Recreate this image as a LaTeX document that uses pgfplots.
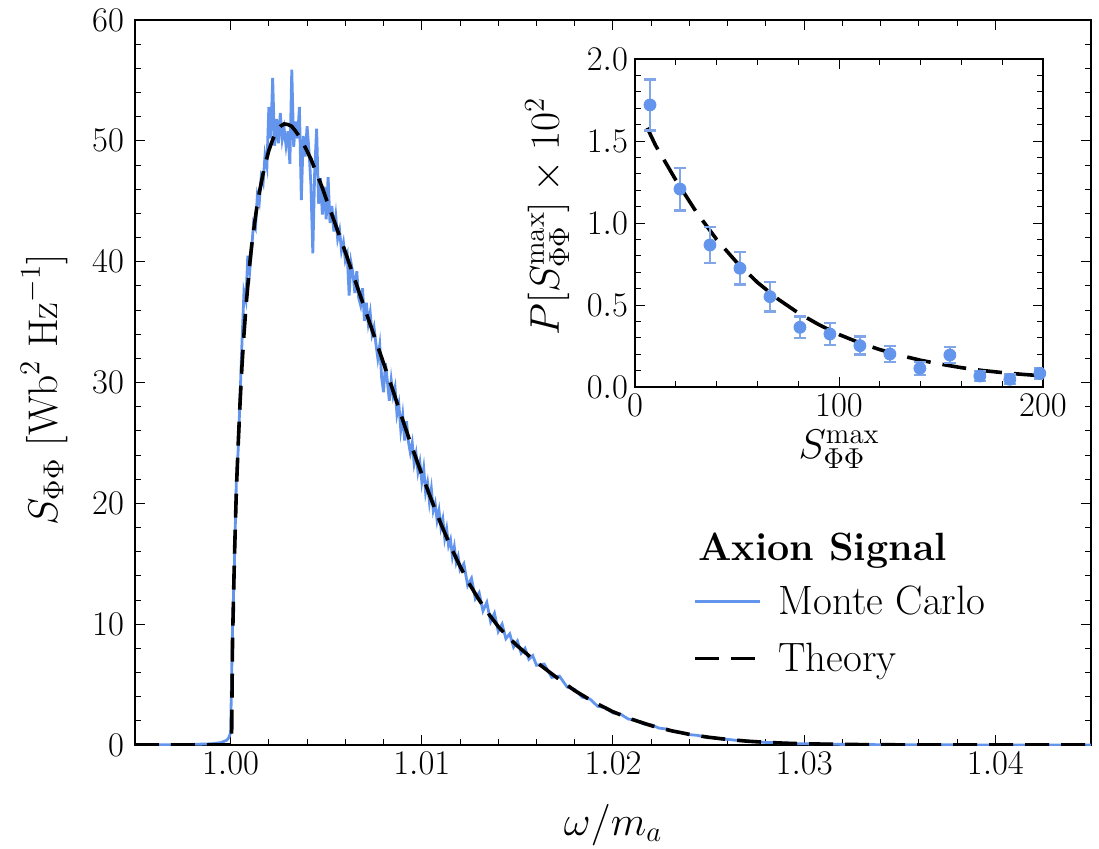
\documentclass[border=0pt]{standalone}
\usepackage{pgfplots}
\pgfplotsset{compat=1.18}
\usepackage{pgfplotstable}
\definecolor{mc}{RGB}{100,149,237}
\definecolor{mcerr}{RGB}{128,166,232}

\pgfplotstableread{
x y
0.995 0
0.99995 0
1.00005 0
1.0001 8.5
1.0002 15.5
1.0003 21
1.0004 25
1.0005 28.5
1.0006 31.5
1.0007 34
1.0008 36.2
1.0009 38
1.0010 39.8
1.0011 41.3
1.0012 42.5
1.0013 43.7
1.0014 44.8
1.0015 45.7
1.0016 46.5
1.0017 47.3
1.0018 48.0
1.0019 48.6
1.0020 49.2
1.0022 50.1
1.0024 50.8
1.0026 51.2
1.0028 51.4
1.0030 51.35
1.0032 51.2
1.0034 50.8
1.0036 50.35
1.0038 49.8
1.0040 49.15
1.0042 48.5
1.0044 47.7
1.0046 46.9
1.0048 46.1
1.0050 45.2
1.0055 43.0
1.0060 40.8
1.0065 38.5
1.0070 36.2
1.0075 33.9
1.0080 31.6
1.0085 29.3
1.0090 26.9
1.0095 24.6
1.0100 22.4
1.0105 20.3
1.0110 18.3
1.0115 16.45
1.0120 14.8
1.0125 13.3
1.0130 12.0
1.0135 10.85
1.0140 9.8
1.0145 8.95
1.0150 8.2
1.0160 6.85
1.0170 5.65
1.0180 4.5
1.0190 3.55
1.0200 2.75
1.0210 2.12
1.0220 1.6
1.0230 1.2
1.0240 0.88
1.0250 0.64
1.0260 0.46
1.0270 0.32
1.0280 0.22
1.0290 0.15
1.0300 0.10
1.0320 0.05
1.0340 0.02
1.0370 0.008
1.0400 0.002
1.0450 0
}\theory

\pgfplotstableread{
x y
0.995 0
0.997 0.02
0.998 0.05
0.999 0.1
0.9995 0.2
0.9998 0.4
0.9999 0.6
1.0000 1.0
1.0001 9.5
1.0002 15.0
1.0003 21.8
1.0004 24.5
1.0005 29.0
1.0006 33.5
1.0007 37.5
1.0008 36.8
1.0009 40.5
1.0010 39.2
1.0011 41.0
1.0012 43.2
1.0013 42.8
1.0014 45.5
1.0015 44.9
1.0016 47.0
1.0017 46.5
1.0018 48.8
1.0019 47.9
1.0020 52.8
1.0021 50.2
1.0022 55.2
1.0023 49.6
1.0024 51.8
1.0025 49.8
1.0026 52.3
1.0027 50.1
1.0028 51.0
1.0029 49.6
1.0030 50.8
1.0031 48.1
1.0032 55.9
1.0033 49.5
1.0034 51.6
1.0035 50.2
1.0036 52.8
1.0037 45.1
1.0038 50.4
1.0039 48.7
1.0040 51.2
1.0041 49.2
1.0042 46.4
1.0043 40.7
1.0044 47.6
1.0045 51.0
1.0046 44.8
1.0047 46.9
1.0048 43.9
1.0049 46.2
1.0050 43.5
1.0051 47.0
1.0052 43.2
1.0053 44.6
1.0054 42.5
1.0055 43.8
1.0056 41.9
1.0057 42.6
1.0058 40.9
1.0059 41.6
1.0060 40.1
1.0061 40.6
1.0062 37.2
1.0063 39.9
1.0064 39.0
1.0065 37.4
1.0066 39.2
1.0067 37.0
1.0068 36.4
1.0069 37.8
1.0070 35.1
1.0071 36.6
1.0072 34.9
1.0073 35.8
1.0074 34.0
1.0075 34.6
1.0076 33.2
1.0077 32.0
1.0078 33.1
1.0079 30.4
1.0080 29.2
1.0081 31.6
1.0082 30.1
1.0083 28.5
1.0084 30.2
1.0085 28.9
1.0086 29.6
1.0087 27.4
1.0088 28.2
1.0089 26.1
1.0090 27.3
1.0091 25.2
1.0092 26.8
1.0093 25.1
1.0094 24.2
1.0095 25.0
1.0096 23.3
1.0097 24.1
1.0098 22.6
1.0099 23.4
1.0100 21.8
1.0101 22.9
1.0102 20.9
1.0103 21.7
1.0104 20.1
1.0105 21.2
1.0106 19.4
1.0107 20.0
1.0108 18.6
1.0109 19.4
1.0110 18.0
1.0111 18.7
1.0112 17.1
1.0113 17.9
1.0114 16.5
1.0115 17.0
1.0116 15.6
1.0117 16.4
1.0118 15.1
1.0119 15.6
1.0120 14.5
1.0122 15.0
1.0124 13.2
1.0126 13.8
1.0128 12.1
1.0130 12.6
1.0132 11.1
1.0134 11.8
1.0136 10.2
1.0138 10.9
1.0140 9.4
1.0142 10.0
1.0144 8.8
1.0146 9.2
1.0148 8.1
1.0150 8.6
1.0152 7.6
1.0154 8.0
1.0156 7.1
1.0158 7.4
1.0160 6.6
1.0164 6.7
1.0168 5.6
1.0172 5.7
1.0176 4.8
1.0180 4.6
1.0184 3.95
1.0188 3.8
1.0192 3.2
1.0196 3.1
1.0200 2.65
1.0204 2.55
1.0208 2.15
1.0212 2.05
1.0216 1.75
1.0220 1.68
1.0224 1.4
1.0228 1.32
1.0232 1.1
1.0236 1.03
1.0240 0.86
1.0244 0.8
1.0248 0.67
1.0252 0.62
1.0256 0.51
1.0260 0.47
1.0264 0.39
1.0268 0.36
1.0272 0.29
1.0276 0.27
1.0280 0.21
1.0284 0.2
1.0288 0.15
1.0292 0.15
1.0296 0.11
1.0300 0.1
1.031 0.08
1.032 0.05
1.033 0.04
1.034 0.025
1.036 0.015
1.038 0.01
1.040 0.005
1.045 0
}\montecarlo

\pgfplotstableread{
x y e
7.35 1.72 0.155
22.05 1.207 0.13
36.75 0.866 0.11
51.45 0.724 0.10
66.15 0.551 0.09
80.85 0.364 0.066
95.55 0.323 0.068
110.25 0.252 0.055
124.95 0.201 0.05
139.65 0.114 0.04
154.35 0.195 0.05
169.05 0.067 0.03
183.75 0.047 0.03
198.45 0.083 0.03
}\pmax

\pgfplotstableread{
x y
6 1.580
10 1.475
20 1.262
30 1.068
40 0.900
50 0.758
60 0.638
70 0.537
80 0.452
90 0.381
100 0.320
110 0.270
120 0.228
130 0.193
140 0.163
150 0.139
160 0.118
170 0.101
180 0.088
190 0.077
200 0.068
}\pfit

\begin{document}
\begin{tikzpicture}
\pgfplotsset{
  common/.style={
    scale only axis,
    tick align=inside,
    xtick pos=both, ytick pos=both,
    major tick length=5pt, minor tick length=3pt,
    every tick/.style={black, line width=0.5pt},
    axis line style={line width=0.75pt},
    tick label style={font=\fontsize{16}{19}\selectfont},
    label style={font=\fontsize{20}{24}\selectfont},
    scaled ticks=false,
  }
}
\begin{axis}[common,
  name=main, at={(0pt,0pt)}, anchor=south west,
  width=478pt, height=362.5pt,
  xmin=0.995, xmax=1.045, ymin=0, ymax=60,
  xtick={1.00,1.01,1.02,1.03,1.04},
  minor x tick num=4,
  ytick={0,10,20,30,40,50,60},
  minor y tick num=4,
  xticklabel style={/pgf/number format/.cd, fixed, fixed zerofill, precision=2},
  yticklabel style={xshift=-2pt},
  xlabel={$\omega/m_a$},
  ylabel={$S_{\Phi\Phi}\ [\mathrm{Wb}^2\ \mathrm{Hz}^{-1}]$},
  xlabel style={at={(axis description cs:0.5,-0.11)}, anchor=center},
  ylabel style={at={(axis description cs:-0.095,0.49)}, anchor=center},
  legend style={at={(axis description cs:0.577,0.231)}, anchor=north west,
    draw=none, fill=none, font=\fontsize{20.5}{24}\selectfont, row sep=8.5pt,
    /tikz/every odd column/.append style={column sep=6.5pt}},
  legend cell align=left,
  legend image code/.code={\draw[#1] (0pt,0pt) -- (32.5pt,0pt);},
]
\addplot[mc, line width=1.4pt] table[x=x,y=y] {\montecarlo};
\addlegendentry{Monte Carlo}
\addplot[black, line width=1.8pt, dash pattern=on 12pt off 6pt] table[x=x,y=y] {\theory};
\addlegendentry{Theory}
\node[anchor=base west, inner sep=0pt, font=\fontsize{19.7}{23}\selectfont\bfseries] at (axis description cs:0.589,0.255) {Axion Signal};
\end{axis}

\begin{axis}[common,
  at={(250pt,179pt)}, anchor=south west,
  width=204pt, height=164pt,
  axis background/.style={fill=white},
  xmin=0, xmax=200, ymin=0, ymax=2,
  xtick={0,100,200}, minor x tick num=4,
  ytick={0,0.5,1,1.5,2}, minor y tick num=4,
  yticklabel style={/pgf/number format/.cd, fixed, fixed zerofill, precision=1},
  xlabel={$S^{\mathrm{max}}_{\Phi\Phi}$},
  ylabel={$P[S^{\mathrm{max}}_{\Phi\Phi}]\times 10^2$},
  xlabel style={at={(axis description cs:0.5,-0.19)}, anchor=center},
  ylabel style={at={(axis description cs:-0.215,0.52)}, anchor=center},
]
\addplot[black, line width=1.8pt, dash pattern=on 12pt off 6pt] table[x=x,y=y] {\pfit};
\addplot[only marks, mark=*, mark size=3pt, mc,
  error bars/.cd, y dir=both, y explicit,
  error bar style={mcerr, line width=1.2pt},
  error mark options={rotate=90, mark size=3pt, line width=1.2pt, mcerr}]
  table[x=x, y=y, y error=e] {\pmax};
\end{axis}
\pgfresetboundingbox
\path (-67.5pt,-51.5pt) rectangle (482pt,372.5pt);
\end{tikzpicture}
\end{document}
